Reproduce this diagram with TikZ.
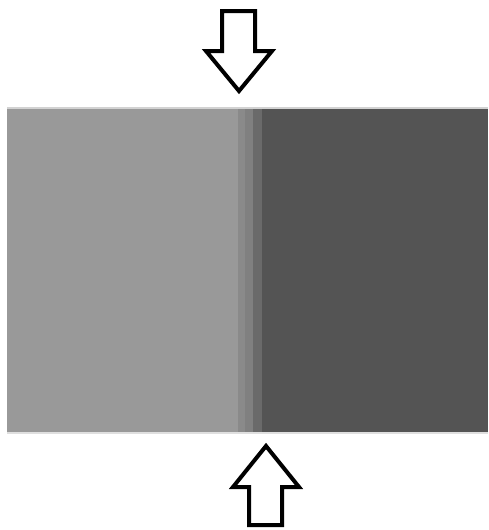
\documentclass[tikz,border=0pt]{standalone}
\begin{document}
\begin{tikzpicture}[x=1pt,y=-1pt,
  arrowshape/.style={draw=black,fill=white,line width=4pt,line join=miter}]
\useasboundingbox[fill=white] (0,0) rectangle (488,530);
\fill[gray!35] (7,107) rectangle (488,110);
\fill[fill={rgb,255:red,153;green,153;blue,153}] (7,109) rectangle (238,432);
\fill[fill={rgb,255:red,138;green,138;blue,138}] (238,109) rectangle (245,432);
\fill[fill={rgb,255:red,128;green,128;blue,128}] (245,109) rectangle (253,432);
\fill[fill={rgb,255:red,106;green,106;blue,106}] (253,109) rectangle (262,432);
\fill[fill={rgb,255:red,84;green,84;blue,84}] (262,109) rectangle (488,432);
\fill[gray!25] (7,432) rectangle (488,434);
\draw[arrowshape] (222,11) -- (255,11) -- (255,51) -- (272,51) -- (239,91) -- (206,51) -- (222,51) -- cycle;
\draw[arrowshape] (249,525) -- (282,525) -- (282,487) -- (299,487) -- (266,446) -- (233,487) -- (249,487) -- cycle;
\end{tikzpicture}
\end{document}
